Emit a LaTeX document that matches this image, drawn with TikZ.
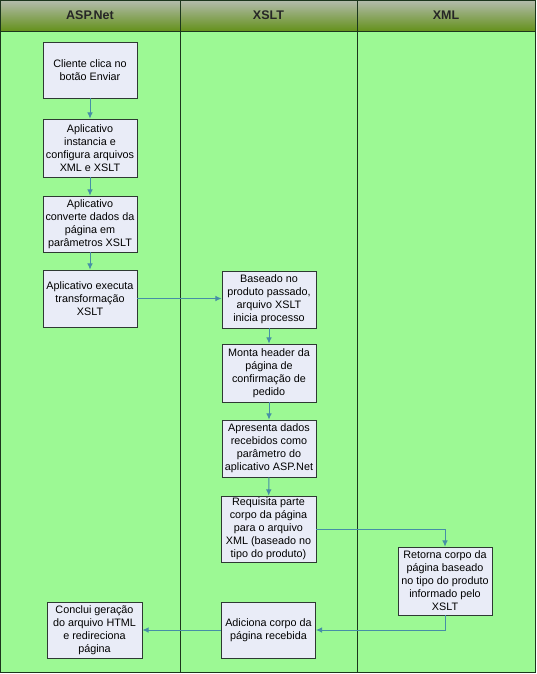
\documentclass[tikz,border=0pt]{standalone}
\usepackage{fontspec}
\setmainfont{Liberation Sans}
\usepackage{xcolor}
\usepackage{tikz}
\usetikzlibrary{
  arrows.meta,
  positioning,
  calc
}
\definecolor{LaneGreen}{HTML}{9CF994}
\definecolor{HeaderTop}{HTML}{B4BCAE}
\definecolor{HeaderBottom}{HTML}{64911B}
\definecolor{BoxFill}{HTML}{E9ECF7}
\definecolor{BoxLine}{HTML}{2E3A33}
\definecolor{FlowBlue}{HTML}{468FA6}
\definecolor{LaneLine}{HTML}{1C361C}
\tikzset{
  laneheader/.style={
    draw=LaneLine,
    line width=0.8pt,
    top color=HeaderTop,
    bottom color=HeaderBottom,
    minimum height=31pt,
    inner sep=0pt,
    font=\fontsize{12.5}{14}\selectfont\bfseries,
    text=black!85
  },
  lanebody/.style={
    draw=LaneLine,
    line width=0.8pt,
    fill=LaneGreen,
    minimum height=641pt,
    inner sep=0pt
  },
  process/.style={
    draw=BoxLine,
    fill=BoxFill,
    line width=0.7pt,
    align=center,
    inner sep=0pt,
    minimum width=94pt,
    minimum height=57pt,
    font=\fontsize{10.8}{13}\selectfont
  },
  flow/.style={
    -{Latex[length=2.2mm,width=2mm]},
    draw=FlowBlue,
    line width=1pt
  }
}

\begin{document}
\begin{tikzpicture}[x=1pt,y=-1pt]

  \useasboundingbox (0,0) rectangle (536,674);

  % swimlanes
  \node[lanebody, minimum width=180pt] (laneasp) at (90,351.5) {};
  \node[lanebody, minimum width=177pt] (lanexslt) at (268.5,351.5) {};
  \node[lanebody, minimum width=178pt] (lanexml) at (446,351.5) {};

  \node[laneheader, minimum width=180pt] (hdrasp) at (90,15.5) {ASP.Net};
  \node[laneheader, minimum width=177pt] (hdrxslt) at (268.5,15.5) {XSLT};
  \node[laneheader, minimum width=178pt] (hdrxml) at (446,15.5) {XML};

  % ASP.Net
  \node[
    process,
    minimum height=56pt
  ] (cliente) at (90,70) {
    Cliente clica no\\
    botão Enviar
  };

  \node[
    process,
    minimum height=58pt
  ] (instancia) at (90,148) {
    Aplicativo\\
    instancia e\\
    configura arquivos\\
    XML e XSLT
  };

  \node[
    process,
    minimum height=56pt
  ] (converte) at (90,224) {
    Aplicativo\\
    converte dados da\\
    página em\\
    parâmetros XSLT
  };

  \node[
    process
  ] (executa) at (90,298.5) {
    Aplicativo executa\\
    transformação\\
    XSLT
  };

  \node[
    process,
    minimum width=95pt,
    minimum height=56pt
  ] (conclui) at (94.5,630) {
    Conclui geração\\
    do arquivo HTML\\
    e redireciona\\
    página
  };

  % XSLT
  \node[
    process
  ] (baseado) at (269,299.5) {
    Baseado no\\
    produto passado,\\
    arquivo XSLT\\
    inicia processo
  };

  \node[
    process,
    minimum height=58pt
  ] (header) at (269,373) {
    Monta header da\\
    página de\\
    confirmação de\\
    pedido
  };

  \node[
    process
  ] (apresenta) at (269,448.5) {
    Apresenta dados\\
    recebidos como\\
    parâmetro do\\
    aplicativo ASP.Net
  };

  \node[
    process,
    minimum width=95pt,
    minimum height=66pt
  ] (requisita) at (268.5,529) {
    Requisita parte\\
    corpo da página\\
    para o arquivo\\
    XML (baseado no\\
    tipo do produto)
  };

  \node[
    process,
    minimum height=56pt
  ] (adiciona) at (268.5,630) {
    Adiciona corpo da\\
    página recebida
  };

  % XML
  \node[
    process,
    minimum height=68pt
  ] (retorna) at (445,581) {
    Retorna corpo da\\
    página baseado\\
    no tipo do produto\\
    informado pelo\\
    XSLT
  };

  \draw[flow] (cliente) -- (instancia);
  \draw[flow] (instancia) -- (converte);
  \draw[flow] (converte) -- (executa);
  \draw[flow] (executa.east) -- (baseado.west |- executa.east);
  \draw[flow] (baseado) -- (header);
  \draw[flow] (header) -- (apresenta);
  \draw[flow] (apresenta) -- (requisita);
  \draw[flow] (requisita.east) -| (retorna.north);
  \draw[flow] (retorna.south) |- (adiciona.east);
  \draw[flow] (adiciona) -- (conclui);

\end{tikzpicture}
\end{document}
